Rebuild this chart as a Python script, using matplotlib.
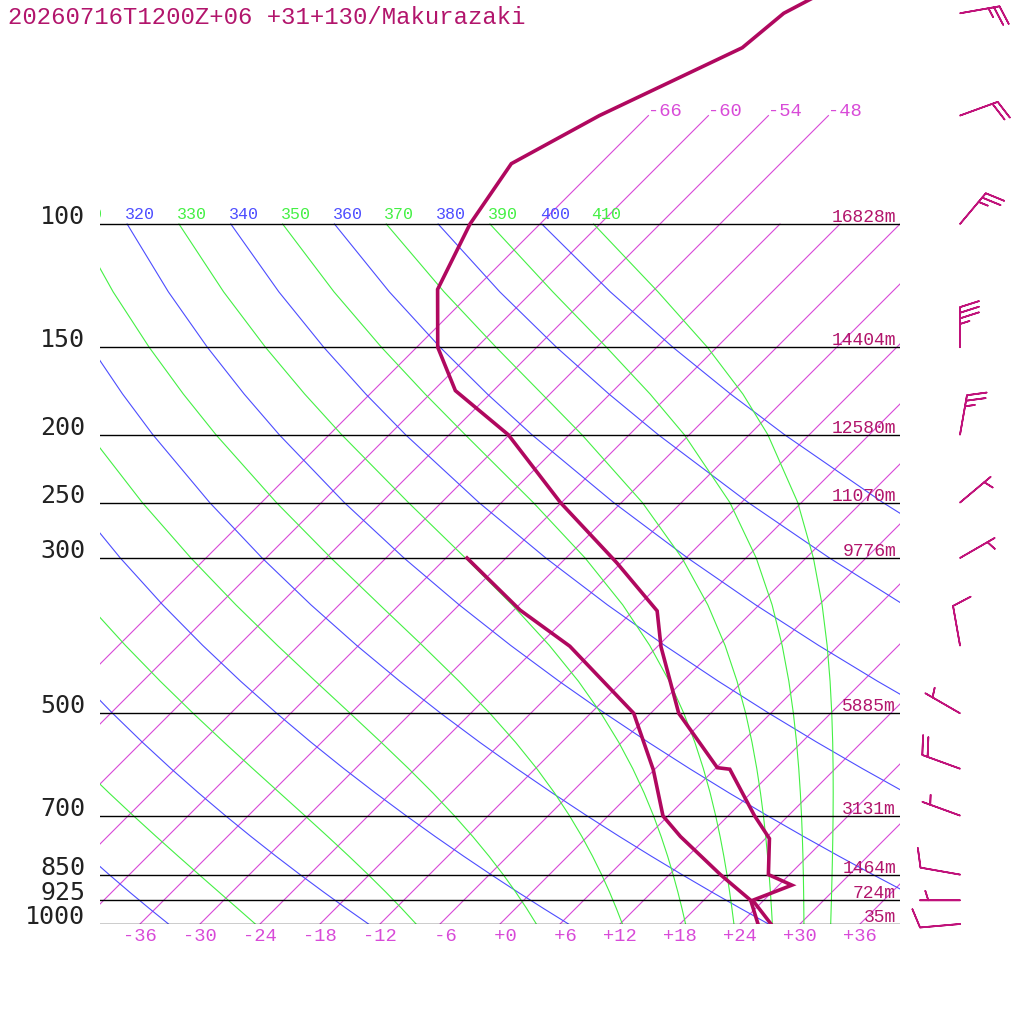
import numpy as np
import matplotlib.pyplot as plt
from matplotlib import transforms

# sounding (hPa, degC)
temp_p = [40, 50, 56, 70, 82, 100, 124, 150, 173, 200, 250, 305, 357, 402,
          500, 598, 601, 700, 755, 850, 880, 925, 1000]
temp_c = [-56.6, -62.7, -63.4, -70.9, -74.9, -73.0, -69.7, -63.9, -57.8, -48.1,
          -36.1, -24.4, -15.6, -11.6, -3.2, 6.1, 7.5, 14.6, 18.4, 21.9, 25.3,
          22.9, 27.1]
dewp_p = [300, 356, 401, 500, 602, 701, 750, 850, 925, 1000]
dewp_c = [-39.9, -29.4, -20.8, -7.7, -0.1, 5.5, 9.3, 17.1, 22.7, 25.8]

# winds (direction from, knots)
wind_p = [50, 70, 100, 150, 200, 250, 300, 400, 500, 600, 700, 850, 925, 1000]
wind_dir = [80, 70, 40, 0, 10, 50, 60, 350, 300, 290, 290, 280, 270, 265]
wind_kt = [25, 20, 25, 35, 25, 5, 5, 10, 5, 20, 5, 10, 5, 10]

# standard levels and heights
std_p = [100, 150, 200, 250, 300, 500, 700, 850, 925, 1000]
std_z = [16828, 14404, 12580, 11070, 9776, 5885, 3131, 1464, 724, 35]

isotherms = np.arange(-66, 37, 6)
dry_theta = np.arange(240, 401, 20)
moist_theta = np.arange(250, 411, 20)
temp_ticks = np.arange(-36, 37, 6)

title = '20260716T1200Z+06 +31+130/Makurazaki'

c_prof = '#b0085f'
c_text = '#b2156c'
c_iso = '#d84ad8'
c_dry = '#4d4dff'
c_moist = '#44f044'

SKEW = 70.0       # degC per decade of pressure
KAPPA = 0.2854
line_p = np.array([100, 125, 150, 175, 200, 250, 300, 350, 400, 450, 500, 550,
                   600, 650, 700, 750, 800, 850, 900, 950, 1000], float)


def skew_x(t, p):
    return np.asarray(t, float) + SKEW * np.log10(1000.0 / np.asarray(p, float))


def moist_rate(tk, p):
    es = 6.112 * np.exp(17.67 * (tk - 273.15) / (tk - 29.65))
    rs = 0.622 * es / (p - es)
    return (287.04 * tk + 2.501e6 * rs) / (1005.7 + 2.501e6 ** 2 * rs * 0.622 / (287.04 * tk * tk))


def moist_adiabat(theta):
    tk = theta * (line_p[0] / 1000.0) ** KAPPA
    out = [tk]
    for p0, p1 in zip(line_p[:-1], line_p[1:]):
        n = 20
        h = np.log(p1 / p0) / n
        lp = np.log(p0)
        for _ in range(n):
            k1 = moist_rate(tk, np.exp(lp))
            k2 = moist_rate(tk + h * k1 / 2, np.exp(lp + h / 2))
            k3 = moist_rate(tk + h * k2 / 2, np.exp(lp + h / 2))
            k4 = moist_rate(tk + h * k3, np.exp(lp + h))
            tk = tk + h * (k1 + 2 * k2 + 2 * k3 + k4) / 6
            lp += h
        out.append(tk)
    return np.array(out) - 273.15


fig = plt.figure(figsize=(10.24, 10.24), dpi=100)
p_top = 1000.0 * 10 ** (-924.0 / 700.0)
ax = fig.add_axes([100 / 1024, 100 / 1024, 800 / 1024, 924 / 1024])
ax.set_yscale('log')
ax.set_ylim(1000, p_top)
ax.set_xlim(-40, 40)
for s in ax.spines.values():
    s.set_visible(False)
ax.minorticks_off()
ax.tick_params(axis='y', which='both', left=False, labelleft=False)

lift = transforms.offset_copy(ax.transData, fig=fig, x=0, y=5, units='dots')
lift2 = transforms.offset_copy(ax.transData, fig=fig, x=0, y=2, units='dots')


def adiabat_label(x, th, color):
    # only labels that reach into the plot (the leftmost one is cut by the frame)
    if x > -43.5:
        ax.text(x - 0.2, 100, str(th), color=color, fontsize=12,
                family='Liberation Mono', ha='left', va='baseline',
                transform=lift, clip_on=True)


# isotherms
for t in isotherms:
    top = 70 if t <= -48 else 100
    ax.plot(skew_x([t, t], [1000, top]), [1000, top], color=c_iso, lw=0.8)
    if top == 70:
        ax.text(skew_x(t, 70), 70, '%d' % t, color=c_iso, fontsize=13.5,
                family='Liberation Mono', ha='left', va='baseline')

# dry adiabats
for th in dry_theta:
    tc = th * (line_p / 1000.0) ** KAPPA - 273.15
    ax.plot(skew_x(tc, line_p), line_p, color=c_dry, lw=0.8)
    adiabat_label(skew_x(tc[0], 100), th, c_dry)

# moist adiabats
for th in moist_theta:
    tc = moist_adiabat(th)
    ax.plot(skew_x(tc, line_p), line_p, color=c_moist, lw=0.8)
    adiabat_label(skew_x(tc[0], 100), th, c_moist)

# standard pressure levels
for p, z in zip(std_p, std_z):
    ax.plot([-40, 40], [p, p], color='black', lw=1.0)
    ax.text(39.6, p, '%dm' % z, color=c_text, fontsize=13, family='Liberation Mono',
            ha='right', va='baseline', transform=lift2)
    ax.text(-41.5, p, str(p), color='#222222', fontsize=18, family='DejaVu Sans Mono',
            ha='right', va='baseline', clip_on=False)

# profiles
ax.plot(skew_x(temp_c, temp_p), temp_p, color=c_prof, lw=2.6, solid_joinstyle='miter')
ax.plot(skew_x(dewp_c, dewp_p), dewp_p, color=c_prof, lw=2.6, solid_joinstyle='miter')

# wind barbs
wd = np.radians(wind_dir)
u = -np.array(wind_kt) * np.sin(wd)
v = -np.array(wind_kt) * np.cos(wd)
ax.barbs(np.full(len(wind_p), 46.0), wind_p, u, v, length=7.6, color='#c0127a',
         linewidth=1.2, clip_on=False,
         sizes=dict(spacing=0.14, height=0.47, width=0.3))

# temperature axis
ax.set_xticks(temp_ticks)
ax.set_xticklabels(['%+3d' % t for t in temp_ticks])
ax.tick_params(axis='x', length=0, pad=3, labelcolor=c_iso, labelsize=13.5)
for lbl in ax.get_xticklabels():
    lbl.set_fontfamily('Liberation Mono')

fig.text(8 / 1024, 1 - 17 / 1024, title, color=c_text, fontsize=17.2,
         family='Liberation Mono', ha='left', va='center')

fig.savefig('out.png', dpi=100)
